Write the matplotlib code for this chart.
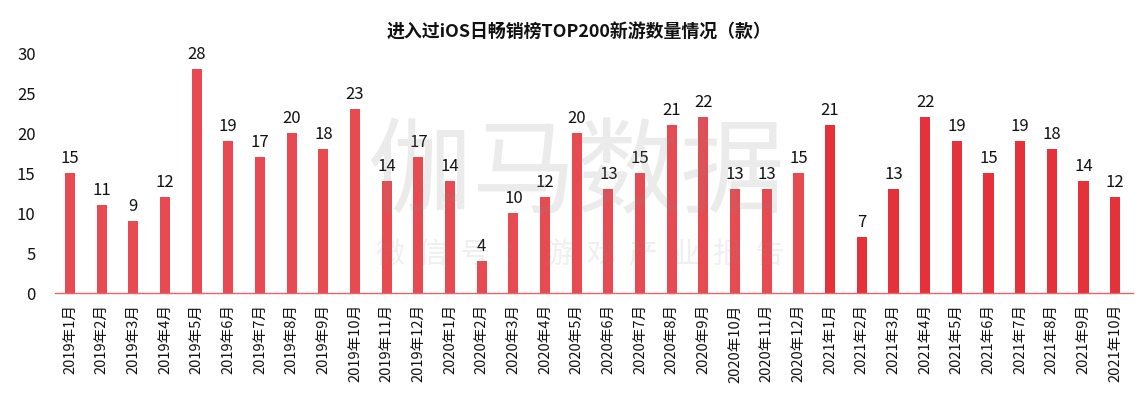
import matplotlib
matplotlib.use("Agg")
import matplotlib.pyplot as plt

plt.rcParams['font.family'] = ['Noto Sans CJK SC', 'DejaVu Sans']

months = ([f"2019年{m}月" for m in range(1, 13)] +
          [f"2020年{m}月" for m in range(1, 13)] +
          [f"2021年{m}月" for m in range(1, 11)])
values = [15, 11, 9, 12, 28, 19, 17, 20, 18, 23, 14, 17,
          14, 4, 10, 12, 20, 13, 15, 21, 22, 13, 13, 15,
          21, 7, 13, 22, 19, 15, 19, 18, 14, 12]
title = "进入过iOS日畅销榜TOP200新游数量情况（款）"

colors = ["#E84A52" if not m.startswith("2021") else "#E5323A" for m in months]

fig = plt.figure(figsize=(11.47, 3.94), dpi=100)
ax = fig.add_axes([0.048, 0.256, 0.940, 0.609])
x = list(range(len(values)))
ax.bar(x, values, width=0.32, color=colors, zorder=2)
for xi, v in zip(x, values):
    ax.text(xi, v + 0.8, str(v), ha='center', va='bottom', fontsize=12,
            color='#111111', clip_on=False, zorder=3)

ax.set_xlim(-0.47, len(values) - 1 + 0.57)
ax.set_ylim(0, 30)
ax.set_yticks(range(0, 31, 5))
ax.set_xticks(x)
ax.set_xticklabels(months, rotation=90, fontsize=10.5, color='#111111')
ax.tick_params(axis='y', length=0, labelsize=12, colors='#111111', pad=14)
ax.tick_params(axis='x', length=0, pad=8)
for s in ['top', 'right', 'left']:
    ax.spines[s].set_visible(False)
ax.spines['bottom'].set_color('#E8646A')
ax.spines['bottom'].set_linewidth(1.0)

fig.text(0.505, 0.918, title, ha='center', va='center', fontsize=12.9,
         fontweight='bold', color='#111111')

# watermark
fig.text(0.502, 0.555, "伽马数据", ha='center', va='center', fontsize=75,
         color='#888888', alpha=0.16, zorder=0)
fig.text(0.506, 0.352, "微  信  号  ：  游  戏  产  业  报  告", ha='center', va='center',
         fontsize=21, color='#888888', alpha=0.13, zorder=0)

fig.savefig("out.png", dpi=100)
